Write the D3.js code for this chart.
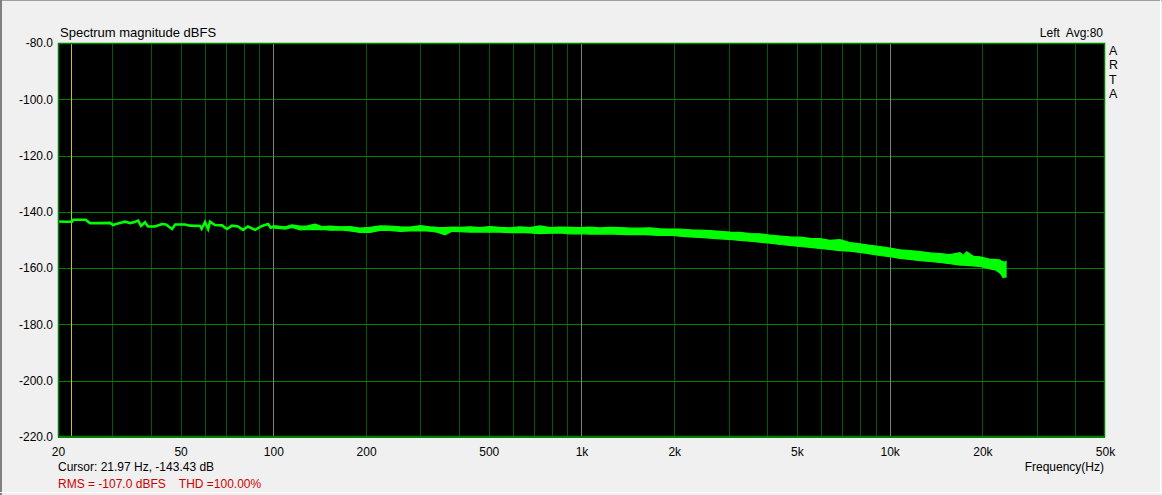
<!DOCTYPE html>
<html>
<head>
<meta charset="utf-8">
<script src="https://cdn.jsdelivr.net/npm/d3@7"></script>
<style>
html,body{margin:0;padding:0;background:#f0f0f0;}
svg{display:block;font-family:"Liberation Sans",Arial,sans-serif;}
</style>
</head>
<body>
<svg id="c" width="1162" height="495"></svg>
<script>
// ---- data ----
const xTickValues = [20, 50, 100, 200, 500, 1000, 2000, 5000, 10000, 20000, 50000];
const xTickLabels = ["20", "50", "100", "200", "500", "1k", "2k", "5k", "10k", "20k", "50k"];
const yTickValues = [-80, -100, -120, -140, -160, -180, -200, -220];
const xGridMinor = [30, 40, 50, 60, 70, 80, 90, 200, 300, 400, 500, 600, 700, 800, 900,
  2000, 3000, 4000, 5000, 6000, 7000, 8000, 9000, 20000, 30000, 40000];
const xGridDecade = [100, 1000, 10000];
const cursorFreq = [21.97];
const brandLetters = ["A", "R", "T", "A"];

const lowFreq = [20, 21.2, 22.2, 22.4, 24.6, 25.4, 27.4, 29.5, 30.2, 31.3, 33.0, 34.3, 35.5, 36.4, 37.2, 38.3, 39.2, 41.3, 43.5, 44.8, 46.9, 48.0, 51.7, 53.6, 57.8, 58.5, 60.0, 61.4, 62.3, 64.6, 68.1, 70.7, 73.4, 76.8, 79.7, 82.7, 87.2, 91.9, 96.1, 98, 100];
const lowDb = [-143.4, -143.5, -143.5, -142.8, -142.8, -144.0, -144.0, -143.9, -144.7, -144.1, -143.5, -144.0, -143.6, -143.1, -145.0, -143.7, -145.2, -145.2, -144.3, -144.5, -146.1, -144.5, -144.5, -144.9, -145.0, -146.0, -143.6, -146.1, -143.5, -144.7, -144.8, -146.1, -144.9, -145.2, -146.4, -145.2, -146.4, -145.0, -144.3, -145.6, -145.3];

const bandFreq = [100, 109, 115, 122, 129, 136.5, 144, 152.7, 165, 177.3, 191, 205.9, 222, 239, 258, 277.5, 300, 322.3, 340, 360.6, 380, 403.4, 435, 468.4, 505, 543.8, 585, 631.5, 680, 733.2, 790, 851.4, 920, 988.8, 1065, 1148, 1240, 1333, 1440, 1548, 1670, 1798, 1940, 2087, 2250, 2424, 2610, 2814, 3030, 3268, 3520, 3795, 4090, 4407, 4750, 5118, 5520, 5942, 6400, 6901, 7430, 8013, 8640, 9306, 10030, 10806, 11650, 12549, 13520, 14571, 15700, 16922, 17350, 17785, 18700, 19650, 20400, 21170, 22000, 22815, 23100, 23330, 23600, 23870];
const bandHi = [-144.9, -145.3, -144.6, -145.1, -145.0, -144.4, -145.2, -145.1, -145.3, -145.2, -145.8, -145.5, -145.0, -145.1, -145.3, -145.4, -144.9, -145.3, -145.5, -145.6, -145.4, -145.5, -145.3, -145.6, -145.2, -145.5, -145.7, -145.3, -145.6, -145.0, -145.6, -145.4, -145.5, -145.6, -145.4, -145.7, -145.5, -145.6, -145.8, -145.8, -145.7, -146.0, -146.1, -146.1, -146.4, -146.5, -146.7, -146.9, -147.2, -147.3, -147.7, -147.8, -148.3, -148.6, -148.9, -149.0, -149.4, -149.5, -150.1, -149.9, -150.9, -151.4, -151.9, -152.3, -152.9, -153.5, -153.8, -154.1, -154.6, -154.8, -155.2, -154.5, -155.5, -154.2, -155.8, -156.0, -156.4, -156.9, -156.9, -157.1, -157.6, -157.7, -158.0, -157.6];
const bandLo = [-145.7, -146.1, -145.5, -146.4, -146.2, -146.3, -146.2, -146.5, -146.4, -146.8, -147.3, -147.3, -146.6, -146.6, -146.9, -146.8, -146.7, -146.9, -147.2, -148.2, -146.9, -147.0, -147.2, -147.2, -147.1, -147.2, -147.4, -147.3, -147.5, -147.7, -147.6, -147.5, -147.8, -147.7, -147.9, -147.9, -147.8, -148.0, -148.1, -148.0, -148.2, -148.4, -148.3, -148.6, -148.9, -149.1, -149.3, -149.6, -149.8, -150.1, -150.4, -150.8, -151.1, -151.6, -151.9, -152.3, -152.6, -153.0, -153.3, -153.8, -154.0, -154.4, -154.9, -155.5, -155.9, -156.5, -156.9, -157.3, -157.6, -158.0, -158.4, -158.9, -158.9, -159.0, -159.2, -159.4, -159.8, -160.3, -160.6, -161.7, -162.5, -163.4, -163.1, -163.2];

// ---- layout ----
const W = 1162, H = 495;
const L = 58, R = 1105, T = 43, B = 437;
const svg = d3.select("#c");

// window frame
svg.append("rect").attr("x", 0).attr("y", 0).attr("width", W).attr("height", H).attr("fill", "#f0f0f0");
svg.append("line").attr("x1", 0).attr("x2", W).attr("y1", 0.5).attr("y2", 0.5).attr("stroke", "#a0a0a0");
svg.append("line").attr("x1", 1).attr("x2", 1).attr("y1", 0).attr("y2", H).attr("stroke", "#808080").attr("stroke-width", 2);
svg.append("line").attr("x1", 0).attr("x2", W).attr("y1", 492.5).attr("y2", 492.5).attr("stroke", "#ffffff");
svg.append("line").attr("x1", 1160.5).attr("x2", 1160.5).attr("y1", 0).attr("y2", 493).attr("stroke", "#ffffff");

const x = d3.scaleLog().domain([20, 50000]).range([L, R]);
const y = d3.scaleLinear().domain([-220, -80]).range([B, T]);

svg.append("rect").attr("x", L).attr("y", T).attr("width", R - L).attr("height", B - T).attr("fill", "#000");

const g = svg.append("g");
g.selectAll(".vm").data(xGridMinor).enter().append("line")
  .attr("x1", d => Math.round(x(d)) + 0.5).attr("x2", d => Math.round(x(d)) + 0.5)
  .attr("y1", T).attr("y2", B).attr("stroke", "#005a00");
g.selectAll(".hg").data(yTickValues).enter().append("line")
  .attr("x1", L).attr("x2", R)
  .attr("y1", d => Math.round(y(d)) + 0.5).attr("y2", d => Math.round(y(d)) + 0.5)
  .attr("stroke", "#008000");
g.selectAll(".vd").data(xGridDecade).enter().append("line")
  .attr("x1", d => Math.round(x(d)) + 0.5).attr("x2", d => Math.round(x(d)) + 0.5)
  .attr("y1", T).attr("y2", B).attr("stroke", "#808080");
g.selectAll(".cur").data(cursorFreq).enter().append("line")
  .attr("x1", d => Math.round(x(d)) + 0.5).attr("x2", d => Math.round(x(d)) + 0.5)
  .attr("y1", T).attr("y2", B).attr("stroke", "#c8c800");

// trace
svg.append("clipPath").attr("id", "clp").append("rect")
  .attr("x", L).attr("y", T).attr("width", R - L).attr("height", B - T);
const tr = svg.append("g").attr("clip-path", "url(#clp)");
const lowData = lowFreq.map((f, i) => ({ f, v: lowDb[i] }));
const bandData = bandFreq.map((f, i) => ({ f, hi: bandHi[i], lo: bandLo[i] }));
tr.append("path").datum(lowData)
  .attr("d", d3.line().x(d => x(d.f)).y(d => y(d.v)))
  .attr("fill", "none").attr("stroke", "#00ff00").attr("stroke-width", 2.6);
tr.append("path").datum(bandData)
  .attr("d", d3.area().x(d => x(d.f)).y0(d => y(d.lo)).y1(d => y(d.hi)))
  .attr("fill", "#00ff00").attr("stroke", "#00ff00").attr("stroke-width", 1.2);

// plot border
svg.append("rect").attr("x", L + 0.5).attr("y", T + 0.5).attr("width", R - L - 1).attr("height", B - T - 1)
  .attr("fill", "none").attr("stroke", "#008000").attr("stroke-width", 1.5);

// axes
const fs = 12;
const yAxis = d3.axisLeft(y).tickValues(yTickValues).tickSize(0).tickPadding(5).tickFormat(d => d.toFixed(1));
const ya = svg.append("g").attr("transform", `translate(${L},0)`).call(yAxis);
ya.select(".domain").remove();
ya.selectAll("text").attr("font-size", fs).attr("fill", "#000").attr("font-family", "Liberation Sans, Arial, sans-serif");

const xAxis = d3.axisBottom(x).tickValues(xTickValues).tickSize(0).tickPadding(10)
  .tickFormat((d, i) => xTickLabels[i]);
const xa = svg.append("g").attr("transform", `translate(0,${B})`).call(xAxis);
xa.select(".domain").remove();
xa.selectAll("text").attr("font-size", fs).attr("fill", "#000").attr("font-family", "Liberation Sans, Arial, sans-serif");

// texts
const txt = (s, tx, ty, anchor, color, size) => svg.append("text").attr("x", tx).attr("y", ty)
  .attr("text-anchor", anchor || "start").attr("fill", color || "#000").attr("font-size", size || fs).text(s);
txt("Spectrum magnitude dBFS", 60, 37, "start", "#000", 13);
txt("Left  Avg:80", 1103, 37, "end").style("white-space", "pre");
brandLetters.forEach((c, i) => txt(c, 1109, 55 + i * 14.3, "start", "#000", 12.4));
txt("Cursor: 21.97 Hz, -143.43 dB", 58, 471);
txt("RMS = -107.0 dBFS    THD =100.00%", 58, 488, "start", "#cc0000").style("white-space", "pre");
txt("Frequency(Hz)", 1104, 471, "end");
</script>
</body>
</html>
